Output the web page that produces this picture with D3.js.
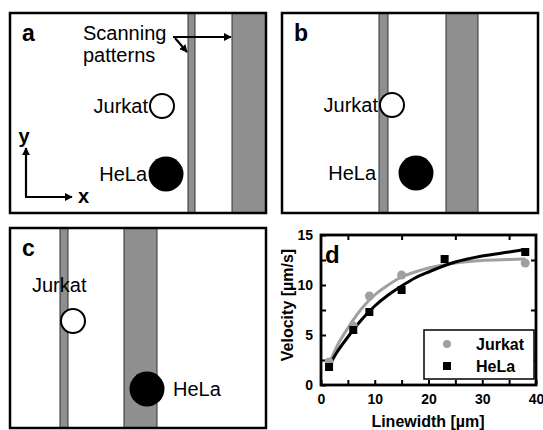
<!DOCTYPE html>
<html>
<head>
<meta charset="utf-8">
<script src="https://cdn.jsdelivr.net/npm/d3@7"></script>
<style>
  body { margin: 0; background: #fff; }
  svg { display: block; font-family: "Liberation Sans", Arial, sans-serif; }
</style>
</head>
<body>
<svg id="fig" width="543" height="430"></svg>
<script>
// schematic panels (field units, 256 x 200 per panel)
const panelNames = ['a', 'b', 'c'];
const panelOrigins = [[10, 13], [282, 13], [10, 228]];
const thinStripes = [[178, 185], [97, 106], [50, 58]];
const thickStripes = [[222, 256], [164, 196], [114, 147]];
const jurkatCells = [[152, 93], [110, 92], [63, 93]];
const helaCells = [[156, 161], [134, 160], [137, 161]];
const jurkatLabels = [[138, 100, 'end'], [96, 99, 'end'], [22, 64, 'start']];
const helaLabels = [[137, 168, 'end'], [94, 167, 'end'], [163, 168, 'start']];

// panel d data
const xTicks = [0, 10, 20, 30, 40];
const yTicks = [0, 5, 10, 15];
const jurkatX = [1.5, 6, 9, 15, 38];
const jurkatY = [2.3, 5.9, 8.9, 11.0, 12.2];
const helaX = [1.5, 6, 9, 15, 23, 38];
const helaY = [1.8, 5.5, 7.3, 9.5, 12.6, 13.3];
const fitX = [1.5, 3, 5, 7.5, 10, 12.5, 15, 17.5, 20, 25, 30, 35, 38];
const jurkatFit = [2.1, 3.9, 5.7, 7.6, 9.0, 10.0, 10.8, 11.3, 11.7, 12.2, 12.45, 12.55, 12.6];
const helaFit = [1.9, 3.3, 4.8, 6.5, 7.9, 9.0, 9.9, 10.7, 11.3, 12.3, 12.9, 13.3, 13.55];

const svg = d3.select('#fig');
const grey = '#8f8f8f';

const defs = svg.append('defs');
defs.append('marker')
  .attr('id', 'arrow')
  .attr('viewBox', '0 0 10 10')
  .attr('refX', 9).attr('refY', 5)
  .attr('markerWidth', 3.6).attr('markerHeight', 3.6)
  .attr('markerUnits', 'strokeWidth')
  .attr('orient', 'auto')
  .append('path')
  .attr('d', 'M0,0 L10,5 L0,10 Z')
  .attr('fill', '#000');

panelNames.forEach((name, i) => {
  const [ox, oy] = panelOrigins[i];
  const x = d3.scaleLinear().domain([0, 256]).range([ox, ox + 256]);
  const y = d3.scaleLinear().domain([0, 200]).range([oy, oy + 200]);
  const g = svg.append('g');

  g.append('rect')
    .attr('x', x(0)).attr('y', y(0))
    .attr('width', x(256) - x(0)).attr('height', y(200) - y(0))
    .attr('fill', '#fff');

  [thinStripes[i], thickStripes[i]].forEach(s => {
    g.append('rect')
      .attr('x', x(s[0])).attr('y', y(0))
      .attr('width', x(s[1]) - x(s[0])).attr('height', y(200) - y(0))
      .attr('fill', grey)
      .attr('stroke', '#333').attr('stroke-width', 1);
  });

  g.append('rect')
    .attr('x', x(0)).attr('y', y(0))
    .attr('width', x(256) - x(0)).attr('height', y(200) - y(0))
    .attr('fill', 'none')
    .attr('stroke', '#000').attr('stroke-width', 2.5);

  g.append('circle')
    .attr('cx', x(jurkatCells[i][0])).attr('cy', y(jurkatCells[i][1]))
    .attr('r', 12)
    .attr('fill', '#fff').attr('stroke', '#000').attr('stroke-width', 2);

  g.append('circle')
    .attr('cx', x(helaCells[i][0])).attr('cy', y(helaCells[i][1]))
    .attr('r', 17.5)
    .attr('fill', '#000');

  g.append('text')
    .attr('x', x(jurkatLabels[i][0])).attr('y', y(jurkatLabels[i][1]))
    .attr('text-anchor', jurkatLabels[i][2])
    .attr('font-size', 20)
    .text('Jurkat');

  g.append('text')
    .attr('x', x(helaLabels[i][0])).attr('y', y(helaLabels[i][1]))
    .attr('text-anchor', helaLabels[i][2])
    .attr('font-size', 20)
    .text('HeLa');

  g.append('text')
    .attr('x', x(12)).attr('y', y(28))
    .attr('font-size', 23).attr('font-weight', 'bold')
    .text(name);

  if (name === 'a') {
    g.append('text')
      .attr('x', x(73)).attr('y', y(27))
      .attr('font-size', 20)
      .text('Scanning');
    g.append('text')
      .attr('x', x(73)).attr('y', y(49))
      .attr('font-size', 20)
      .text('patterns');

    g.append('line')
      .attr('x1', x(163)).attr('y1', y(24))
      .attr('x2', x(221)).attr('y2', y(24))
      .attr('stroke', '#000').attr('stroke-width', 2.2)
      .attr('marker-end', 'url(#arrow)');
    g.append('line')
      .attr('x1', x(165)).attr('y1', y(25))
      .attr('x2', x(177)).attr('y2', y(39))
      .attr('stroke', '#000').attr('stroke-width', 2.2)
      .attr('marker-end', 'url(#arrow)');

    // coordinate axes
    g.append('line')
      .attr('x1', x(16)).attr('y1', y(184))
      .attr('x2', x(16)).attr('y2', y(135))
      .attr('stroke', '#000').attr('stroke-width', 2.2)
      .attr('marker-end', 'url(#arrow)');
    g.append('line')
      .attr('x1', x(15)).attr('y1', y(184))
      .attr('x2', x(62)).attr('y2', y(184))
      .attr('stroke', '#000').attr('stroke-width', 2.2)
      .attr('marker-end', 'url(#arrow)');
    g.append('text')
      .attr('x', x(14)).attr('y', y(130))
      .attr('text-anchor', 'middle')
      .attr('font-size', 20).attr('font-weight', 'bold')
      .text('y');
    g.append('text')
      .attr('x', x(68)).attr('y', y(190))
      .attr('font-size', 20).attr('font-weight', 'bold')
      .text('x');
  }
});

// panel d: velocity vs linewidth
const plotLeft = 321, plotRight = 536, plotTop = 235, plotBottom = 385;
const xScale = d3.scaleLinear().domain([0, 40]).range([plotLeft, plotRight]);
const yScale = d3.scaleLinear().domain([0, 15]).range([plotBottom, plotTop]);
const chart = svg.append('g');

const tickStyle = sel => sel.attr('font-size', 14).attr('font-weight', 'bold')
  .attr('font-family', '"Liberation Sans", Arial, sans-serif');

// bottom axis, ticks pointing inward
chart.append('g')
  .attr('transform', `translate(0, ${plotBottom})`)
  .call(d3.axisBottom(xScale).tickValues(d3.range(0, 41, 5)).tickSize(-5).tickFormat(''))
  .call(g => g.select('.domain').remove())
  .call(g => g.selectAll('line').attr('stroke-width', 2));
chart.append('g')
  .attr('transform', `translate(0, ${plotBottom})`)
  .call(d3.axisBottom(xScale).tickValues(xTicks).tickSize(0).tickPadding(9))
  .call(g => g.select('.domain').remove())
  .call(g => tickStyle(g.selectAll('text')).attr('fill', '#000'));

// top axis (ticks at 5, 15, 25, 35)
chart.append('g')
  .attr('transform', `translate(0, ${plotTop})`)
  .call(d3.axisTop(xScale).tickValues([5, 15, 25, 35]).tickSize(-5).tickFormat(''))
  .call(g => g.select('.domain').remove())
  .call(g => g.selectAll('line').attr('stroke-width', 2));

// left axis
chart.append('g')
  .attr('transform', `translate(${plotLeft}, 0)`)
  .call(d3.axisLeft(yScale).tickValues(d3.range(0, 15.1, 2.5)).tickSize(-5).tickFormat(''))
  .call(g => g.select('.domain').remove())
  .call(g => g.selectAll('line').attr('stroke-width', 2));
chart.append('g')
  .attr('transform', `translate(${plotLeft}, 0)`)
  .call(d3.axisLeft(yScale).tickValues(yTicks).tickSize(0).tickPadding(8))
  .call(g => g.select('.domain').remove())
  .call(g => tickStyle(g.selectAll('text')).attr('fill', '#000'));

// right axis (ticks at 2.5, 7.5, 12.5)
chart.append('g')
  .attr('transform', `translate(${plotRight}, 0)`)
  .call(d3.axisRight(yScale).tickValues([2.5, 7.5, 12.5]).tickSize(-5).tickFormat(''))
  .call(g => g.select('.domain').remove())
  .call(g => g.selectAll('line').attr('stroke-width', 2));

// fit curves
const line = d3.line()
  .x(d => xScale(d[0]))
  .y(d => yScale(d[1]))
  .curve(d3.curveMonotoneX);

chart.append('path')
  .datum(fitX.map((v, i) => [v, jurkatFit[i]]))
  .attr('d', line)
  .attr('fill', 'none').attr('stroke', '#a0a0a0').attr('stroke-width', 3);

chart.append('path')
  .datum(fitX.map((v, i) => [v, helaFit[i]]))
  .attr('d', line)
  .attr('fill', 'none').attr('stroke', '#000').attr('stroke-width', 3);

// measured points
chart.selectAll('.jurkat')
  .data(jurkatX.map((v, i) => [v, jurkatY[i]]))
  .enter()
  .append('circle')
  .attr('class', 'jurkat')
  .attr('cx', d => xScale(d[0]))
  .attr('cy', d => yScale(d[1]))
  .attr('r', 4.5)
  .attr('fill', '#a0a0a0');

chart.selectAll('.hela')
  .data(helaX.map((v, i) => [v, helaY[i]]))
  .enter()
  .append('rect')
  .attr('class', 'hela')
  .attr('x', d => xScale(d[0]) - 4)
  .attr('y', d => yScale(d[1]) - 4)
  .attr('width', 8).attr('height', 8)
  .attr('fill', '#000');

// frame
chart.append('rect')
  .attr('x', plotLeft).attr('y', plotTop)
  .attr('width', plotRight - plotLeft).attr('height', plotBottom - plotTop)
  .attr('fill', 'none').attr('stroke', '#000').attr('stroke-width', 2.8);

// legend
const legend = chart.append('g');
legend.append('rect')
  .attr('x', 424).attr('y', 330)
  .attr('width', 110).attr('height', 49)
  .attr('fill', '#fff').attr('stroke', '#000').attr('stroke-width', 1.5);
legend.append('circle')
  .attr('cx', 447).attr('cy', 344).attr('r', 4)
  .attr('fill', '#a0a0a0');
legend.append('rect')
  .attr('x', 443).attr('y', 362).attr('width', 8).attr('height', 8)
  .attr('fill', '#000');
legend.append('text')
  .attr('x', 476).attr('y', 350)
  .attr('font-size', 16).attr('font-weight', 'bold')
  .text('Jurkat');
legend.append('text')
  .attr('x', 476).attr('y', 372)
  .attr('font-size', 16).attr('font-weight', 'bold')
  .text('HeLa');

chart.append('text')
  .attr('x', 325).attr('y', 263)
  .attr('font-size', 24).attr('font-weight', 'bold')
  .text('d');

svg.append('text')
  .attr('transform', `translate(293, 305) rotate(-90)`)
  .attr('text-anchor', 'middle')
  .attr('font-size', 16).attr('font-weight', 'bold')
  .text('Velocity [µm/s]');

svg.append('text')
  .attr('x', 428).attr('y', 427)
  .attr('text-anchor', 'middle')
  .attr('font-size', 16).attr('font-weight', 'bold')
  .text('Linewidth [µm]');
</script>
</body>
</html>
